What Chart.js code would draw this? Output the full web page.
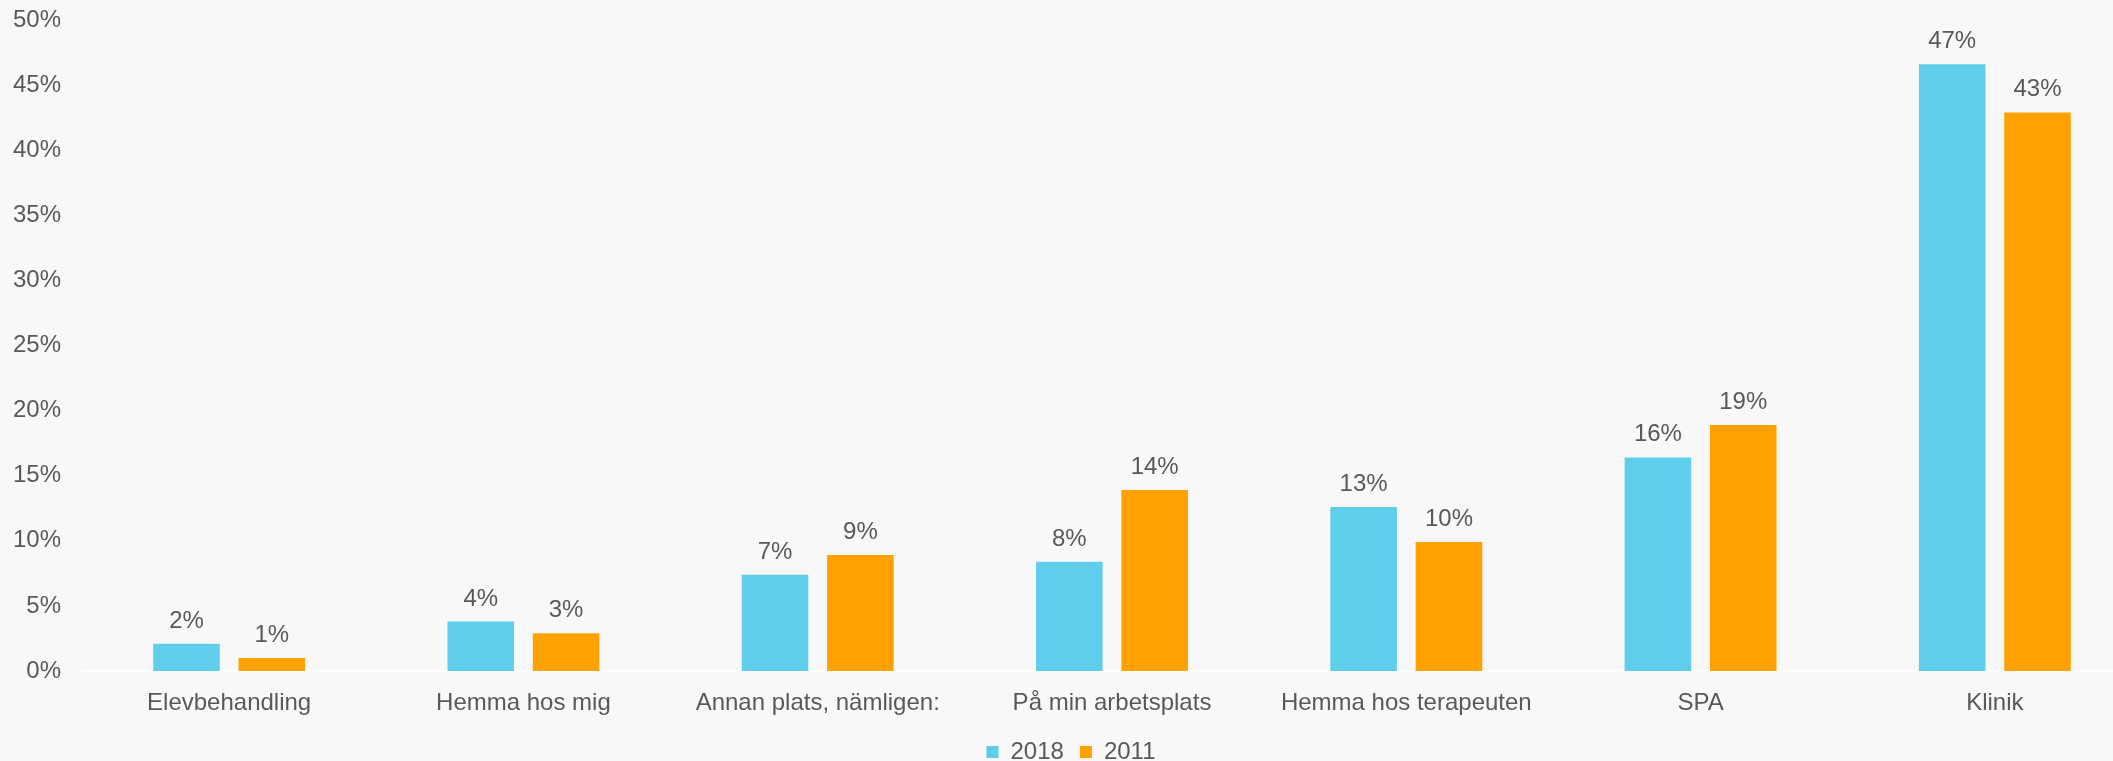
<!DOCTYPE html>
<html>
<head>
<meta charset="utf-8">
<script src="https://cdn.jsdelivr.net/npm/chart.js@4"></script>
<style>
  html, body { margin: 0; padding: 0; background: #f8f8f8; overflow: hidden; }
  #wrap { width: 2174px; height: 761px; }
</style>
</head>
<body>
<div id="wrap"><canvas id="chart"></canvas></div>
<script>
const categories = ['Elevbehandling', 'Hemma hos mig', 'Annan plats, nämligen:', 'På min arbetsplats', 'Hemma hos terapeuten', 'SPA', 'Klinik'];
const values2018 = [2.1, 3.8, 7.4, 8.4, 12.6, 16.4, 46.6];
const values2011 = [1.0, 2.9, 8.9, 13.9, 9.9, 18.9, 42.9];
const yTicks = [0, 5, 10, 15, 20, 25, 30, 35, 40, 45, 50];

const textColor = '#595959';
const font = { family: '"Liberation Sans", Arial, sans-serif', size: 24 };

// draw the value labels above each bar
const valueLabels = {
    id: 'valueLabels',
    afterDatasetsDraw(chart) {
        const ctx = chart.ctx;
        ctx.save();
        ctx.font = `${font.size}px ${font.family}`;
        ctx.fillStyle = textColor;
        ctx.textAlign = 'center';
        ctx.textBaseline = 'alphabetic';
        chart.data.datasets.forEach((ds, i) => {
            chart.getDatasetMeta(i).data.forEach((bar, j) => {
                ctx.fillText(Math.round(ds.data[j]) + '%', bar.x, bar.y - 16);
            });
        });
        ctx.restore();
    }
};

new Chart(document.getElementById('chart'), {
    type: 'bar',
    data: {
        labels: categories,
        datasets: [
            { label: '2018', data: values2018, backgroundColor: '#5fceea' },
            { label: '2011', data: values2011, backgroundColor: '#ffa100' }
        ]
    },
    options: {
        responsive: true,
        maintainAspectRatio: false,
        animation: false,
        categoryPercentage: 0.58,
        barPercentage: 0.78,
        layout: { padding: { top: 20, right: 32, bottom: -13, left: 0 } },
        scales: {
            x: {
                afterFit: axis => { axis.height = 53; },
                grid: { display: false, drawTicks: false },
                border: { color: '#ffffff', width: 2 },
                ticks: { color: textColor, font: font, padding: 18, maxRotation: 0 }
            },
            y: {
                min: 0,
                max: 50,
                afterBuildTicks: axis => { axis.ticks = yTicks.map(v => ({ value: v })); },
                afterFit: axis => { axis.width = 82; axis.paddingTop = 0; },
                grid: { display: false, drawTicks: false },
                border: { display: false },
                ticks: { color: textColor, font: font, padding: 21, callback: v => v + '%' }
            }
        },
        plugins: {
            legend: {
                position: 'bottom',
                labels: { color: textColor, font: font, boxWidth: 12, boxHeight: 12, padding: 16 }
            },
            tooltip: { enabled: false }
        }
    },
    plugins: [valueLabels]
});
</script>
</body>
</html>
